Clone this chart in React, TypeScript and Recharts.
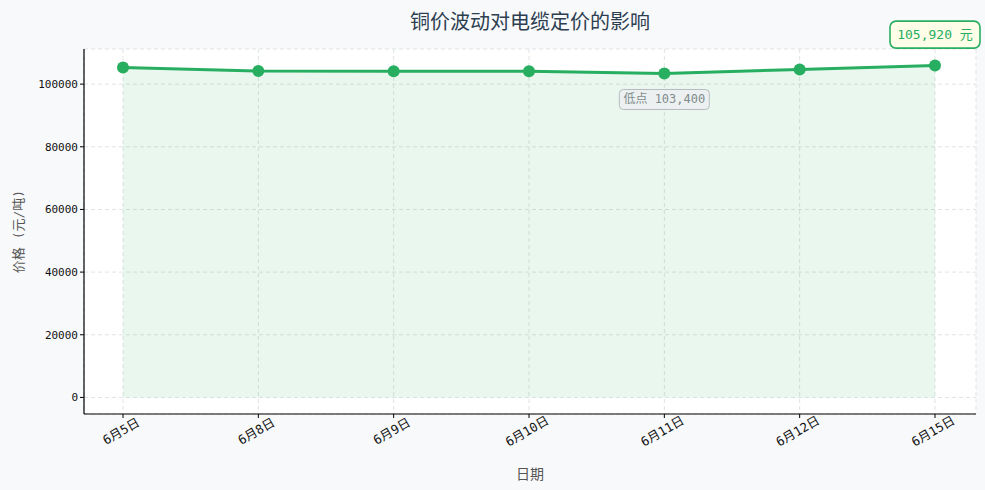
import React from 'react';
import {
  ComposedChart,
  Area,
  Line,
  XAxis,
  YAxis,
  CartesianGrid,
  LabelList,
} from 'recharts';

const dates = ['6月5日', '6月8日', '6月9日', '6月10日', '6月11日', '6月12日', '6月15日'];
const prices = [105300, 104200, 104100, 104100, 103400, 104700, 105920];
const yTicks = [0, 20000, 40000, 60000, 80000, 100000];

const data = dates.map((d, i) => ({ date: d, price: prices[i] }));

const maxIdx = prices.indexOf(Math.max(...prices));
const minIdx = prices.indexOf(Math.min(...prices));

const GREEN = '#27ae60';
// ascii glyphs from the mono face, hanzi fall through to Noto CJK
const FONT = "'DejaVu Sans Mono', 'Noto Sans CJK SC', monospace";

const fmt = (v: number) => v.toLocaleString('en-US');

const XTick = (props: any) => {
  const { x, y, payload } = props;
  return (
    <g transform={`translate(${x - 2},${y + 11})`}>
      <text
        textAnchor="middle"
        dominantBaseline="central"
        transform="rotate(-30)"
        fontSize={12.5}
        fill="#111"
        fontFamily={FONT}
      >
        {payload.value}
      </text>
    </g>
  );
};

const PointNote = (props: any) => {
  const { x, y, index } = props;
  if (index === maxIdx) {
    const w = 90;
    const h = 27;
    const cy = y - 31;
    return (
      <g>
        <rect x={x - w / 2} y={cy - h / 2} width={w} height={h} rx={6} fill="#fdfde8" stroke={GREEN} strokeWidth={1.6} />
        <text x={x} y={cy} textAnchor="middle" dominantBaseline="central" fontSize={13} fill={GREEN} fontFamily={FONT}>
          {`${fmt(prices[maxIdx])} 元`}
        </text>
      </g>
    );
  }
  if (index === minIdx) {
    const w = 90;
    const h = 20;
    const cy = y + 26;
    return (
      <g>
        <rect x={x - w / 2} y={cy - h / 2} width={w} height={h} rx={4} fill="#eceff1" fillOpacity={0.85} stroke="#b8bcc0" strokeWidth={1} />
        <text x={x} y={cy} textAnchor="middle" dominantBaseline="central" fontSize={12} fill="#7f8c8d" fontFamily={FONT}>
          {`低点 ${fmt(prices[minIdx])}`}
        </text>
      </g>
    );
  }
  return null;
};

export default function App() {
  return (
    <div style={{ position: 'fixed', left: 0, top: 0, width: 985, height: 490, background: '#f8f9fb', fontFamily: FONT }}>
      <div
        style={{
          position: 'absolute',
          left: 84,
          width: 892,
          top: 7,
          textAlign: 'center',
          fontSize: 20,
          color: '#2c3e50',
          lineHeight: '28px',
          fontFamily: "'Noto Sans CJK SC', sans-serif",
        }}
      >
        铜价波动对电缆定价的影响
      </div>
      <ComposedChart width={985} height={490} data={data} margin={{ top: 49, right: 9, bottom: 0, left: 0 }}>
        <CartesianGrid fill="#ffffff" stroke="#dfe3e6" strokeDasharray="4 3" />
        <XAxis
          dataKey="date"
          height={76}
          padding={{ left: 39, right: 41 }}
          tick={<XTick />}
          tickLine={{ stroke: '#000' }}
          tickSize={4}
          axisLine={{ stroke: '#000', strokeWidth: 1.2 }}
          interval={0}
          label={{ value: '日期', position: 'insideBottom', offset: 11, fontSize: 14, fill: '#555', fontFamily: FONT }}
        />
        <YAxis
          width={84}
          type="number"
          domain={[-5296, 111216]}
          ticks={yTicks}
          allowDataOverflow
          tick={{ fontSize: 11, fill: '#111', fontFamily: FONT }}
          tickLine={{ stroke: '#000' }}
          tickSize={4}
          axisLine={{ stroke: '#000', strokeWidth: 1.2 }}
          label={(p: any) => {
            const vb = p.viewBox;
            const cx = 18;
            const cy = vb.y + vb.height / 2;
            return (
              <text x={cx} y={cy} transform={`rotate(-90, ${cx}, ${cy})`} textAnchor="middle" dominantBaseline="central" fontSize={13} fill="#555" fontFamily={FONT}>
                价格 (元/吨)
              </text>
            );
          }}
        />
        <Area
          dataKey="price"
          type="linear"
          baseValue={0}
          stroke="none"
          fill={GREEN}
          fillOpacity={0.1}
          isAnimationActive={false}
        />
        <Line
          dataKey="price"
          type="linear"
          stroke={GREEN}
          strokeWidth={3}
          dot={{ r: 6, fill: GREEN, stroke: GREEN, strokeWidth: 0 }}
          activeDot={false}
          isAnimationActive={false}
        >
          <LabelList dataKey="price" content={<PointNote />} />
        </Line>
      </ComposedChart>
    </div>
  );
}
